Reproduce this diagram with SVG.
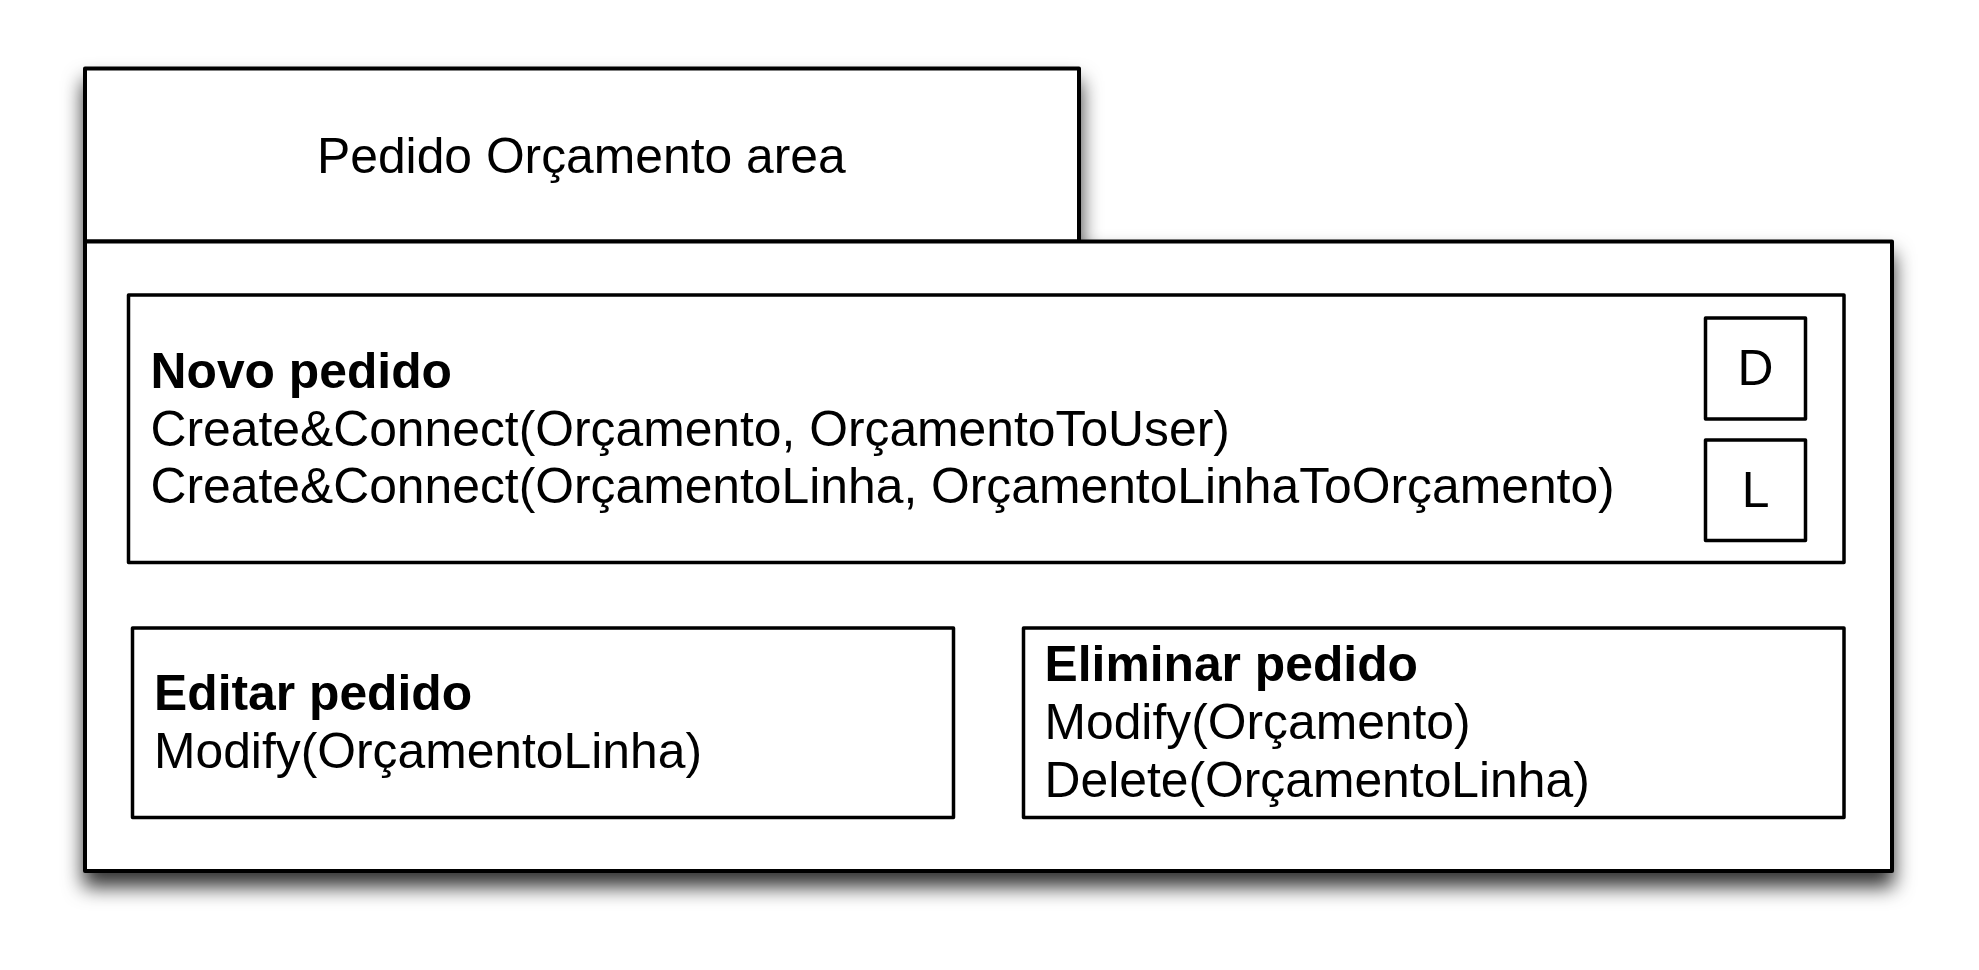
<svg xmlns="http://www.w3.org/2000/svg" width="1979" height="970" viewBox="0 0 1979 970">
<defs>
<filter id="sh" x="-10%" y="-10%" width="120%" height="130%">
<feDropShadow dx="0" dy="14" stdDeviation="10" flood-color="#000" flood-opacity="0.8"/>
</filter>
</defs>
<style>
.box{fill:#fff;stroke:#000;stroke-width:3.5;stroke-linejoin:round}
.outer{fill:#fff;stroke:#000;stroke-width:4;stroke-linejoin:round}
text{font-family:"Liberation Sans",Arial,Helvetica,sans-serif;font-size:49.8px;fill:#000}
.b{font-weight:bold}
.t{font-size:49.8px}
</style>
<rect width="1979" height="970" fill="#fff"/>
<g id="area">
<g filter="url(#sh)">
<rect class="outer" x="85" y="68.5" width="994" height="173"/>
<rect class="outer" x="85" y="241.5" width="1807" height="629.5"/>
</g>
<text class="t" x="317" y="173">Pedido Orçamento area</text>
</g>
<g id="novo">
<rect class="box" x="128.5" y="295" width="1715.5" height="267.5"/>
<text class="b" x="150.5" y="388">Novo pedido</text>
<text x="150.5" y="445.5">Create&amp;Connect(Orçamento, OrçamentoToUser)</text>
<text x="150.5" y="503">Create&amp;Connect(OrçamentoLinha, OrçamentoLinhaToOrçamento)</text>
</g>
<g id="d">
<rect class="box" x="1705.5" y="318" width="100" height="101"/>
<text x="1755.5" y="385" text-anchor="middle">D</text>
</g>
<g id="l">
<rect class="box" x="1705.5" y="440" width="100" height="100.5"/>
<text x="1755.5" y="506.5" text-anchor="middle">L</text>
</g>
<g id="editar">
<rect class="box" x="132.5" y="628" width="821" height="189.5"/>
<text class="b" x="154" y="710">Editar pedido</text>
<text x="154" y="768">Modify(OrçamentoLinha)</text>
</g>
<g id="eliminar">
<rect class="box" x="1023.5" y="628" width="820.5" height="189.5"/>
<text class="b" x="1044.5" y="681">Eliminar pedido</text>
<text x="1044.5" y="738.5">Modify(Orçamento)</text>
<text x="1044.5" y="796.5">Delete(OrçamentoLinha)</text>
</g>
<g id="connectors"/>
</svg>
